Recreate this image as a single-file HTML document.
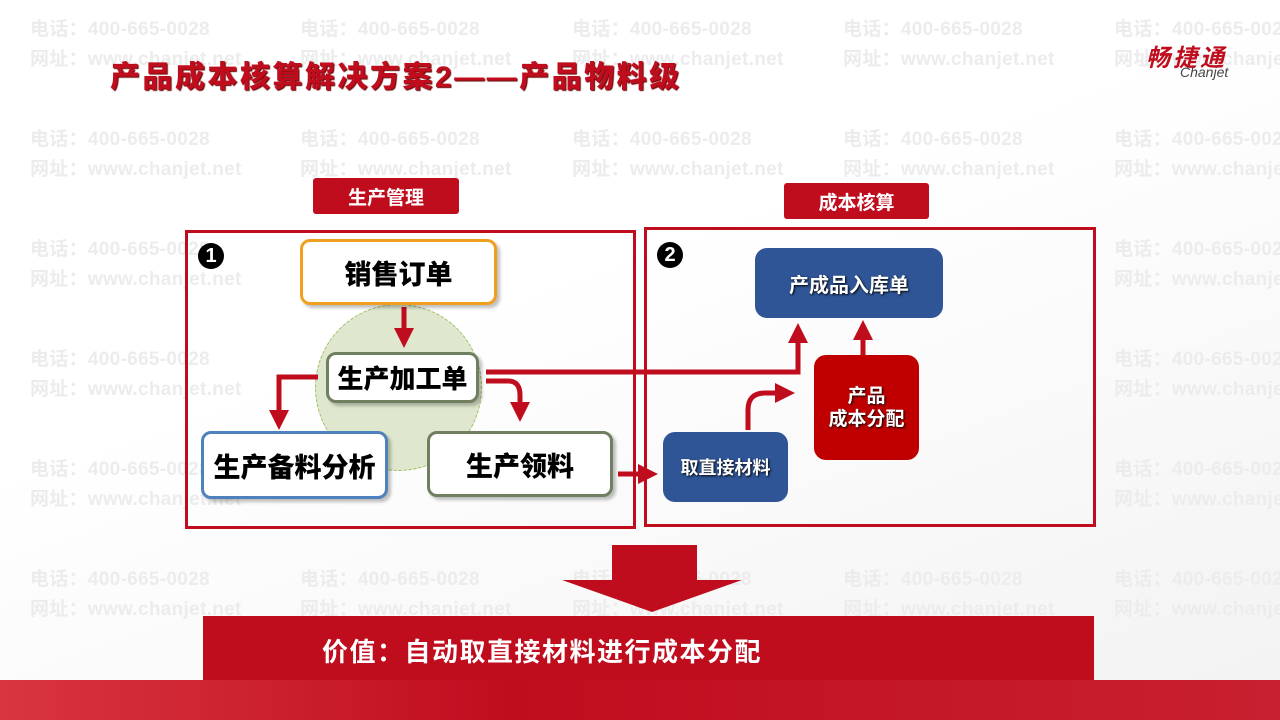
<!DOCTYPE html>
<html><head><meta charset="utf-8"><style>
body{margin:0;width:1280px;height:720px;overflow:hidden;background:#f7f7f7;font-family:"Liberation Sans","Noto Sans CJK SC",sans-serif;position:relative}
.a{position:absolute}
.wm{position:absolute;color:#ececec;font-size:19px;font-weight:bold;line-height:30px;white-space:nowrap;letter-spacing:0.3px}
.box{position:absolute;box-sizing:border-box;background:#fff;border-radius:10px;font-weight:900;font-size:26px;display:flex;align-items:center;justify-content:center;color:#000;box-shadow:3px 3px 3px rgba(0,0,0,.25)}
.bl{position:absolute;background:#2f5597;border-radius:12px;color:#fff;font-weight:bold;display:flex;align-items:center;justify-content:center;text-align:center;text-shadow:1px 1px 2px #000}
.lab{position:absolute;background:#c00d1e;color:#fff;font-weight:bold;font-size:19px;display:flex;align-items:center;justify-content:center;border-radius:3px}
.num{position:absolute;width:26px;height:26px;border-radius:50%;background:#000;color:#fff;font-weight:bold;font-size:20px;display:flex;align-items:center;justify-content:center}
</style></head><body>
<div class="a" style="left:0;top:0;width:1280px;height:720px;background:linear-gradient(160deg,#fff 40%,#f2f2f2 100%)"></div>
<div class="wm" style="left:30px;top:15px">电话：400-665-0028<br>网址：www.chanjet.net</div>
<div class="wm" style="left:300px;top:15px">电话：400-665-0028<br>网址：www.chanjet.net</div>
<div class="wm" style="left:572px;top:15px">电话：400-665-0028<br>网址：www.chanjet.net</div>
<div class="wm" style="left:843px;top:15px">电话：400-665-0028<br>网址：www.chanjet.net</div>
<div class="wm" style="left:1114px;top:15px">电话：400-665-0028<br>网址：www.chanjet.net</div>
<div class="wm" style="left:30px;top:125px">电话：400-665-0028<br>网址：www.chanjet.net</div>
<div class="wm" style="left:300px;top:125px">电话：400-665-0028<br>网址：www.chanjet.net</div>
<div class="wm" style="left:572px;top:125px">电话：400-665-0028<br>网址：www.chanjet.net</div>
<div class="wm" style="left:843px;top:125px">电话：400-665-0028<br>网址：www.chanjet.net</div>
<div class="wm" style="left:1114px;top:125px">电话：400-665-0028<br>网址：www.chanjet.net</div>
<div class="wm" style="left:30px;top:235px">电话：400-665-0028<br>网址：www.chanjet.net</div>
<div class="wm" style="left:1114px;top:235px">电话：400-665-0028<br>网址：www.chanjet.net</div>
<div class="wm" style="left:30px;top:345px">电话：400-665-0028<br>网址：www.chanjet.net</div>
<div class="wm" style="left:1114px;top:345px">电话：400-665-0028<br>网址：www.chanjet.net</div>
<div class="wm" style="left:30px;top:455px">电话：400-665-0028<br>网址：www.chanjet.net</div>
<div class="wm" style="left:1114px;top:455px">电话：400-665-0028<br>网址：www.chanjet.net</div>
<div class="wm" style="left:30px;top:565px">电话：400-665-0028<br>网址：www.chanjet.net</div>
<div class="wm" style="left:300px;top:565px">电话：400-665-0028<br>网址：www.chanjet.net</div>
<div class="wm" style="left:572px;top:565px">电话：400-665-0028<br>网址：www.chanjet.net</div>
<div class="wm" style="left:843px;top:565px">电话：400-665-0028<br>网址：www.chanjet.net</div>
<div class="wm" style="left:1114px;top:565px">电话：400-665-0028<br>网址：www.chanjet.net</div>

<div class="a" style="left:110px;top:52px;font-size:30px;font-weight:900;color:#c00d1e;text-shadow:1px 1px 1px #600;letter-spacing:2.5px;white-space:nowrap">产品成本核算解决方案2——产品物料级</div>
<div class="a" style="left:1146px;top:38px;font-size:24px;font-weight:bold;font-style:italic;color:#c00d1e;letter-spacing:3px">畅捷通</div>
<div class="a" style="left:1180px;top:64px;font-size:14px;font-style:italic;color:#444">Chanjet</div>

<div class="lab" style="left:313px;top:178px;width:146px;height:36px">生产管理</div>
<div class="lab" style="left:784px;top:183px;width:145px;height:36px">成本核算</div>

<div class="a" style="left:185px;top:230px;width:445px;height:293px;border:3px solid #c00d1e"></div>
<div class="a" style="left:644px;top:227px;width:446px;height:294px;border:3px solid #c00d1e"></div>
<div class="num" style="left:198px;top:243px">1</div>
<div class="num" style="left:657px;top:242px">2</div>

<div class="a" style="left:315px;top:304px;width:165px;height:165px;border-radius:50%;background:#dfe8cf;border:1px dashed #9bbb59"></div>

<svg class="a" style="left:0;top:0" width="1280" height="720">
<defs><marker id="m" markerWidth="4" markerHeight="4" refX="2" refY="2" orient="auto" markerUnits="strokeWidth"><path d="M0,0L4,2L0,4z" fill="#c00d1e"/></marker></defs>
<g stroke="#c00d1e" stroke-width="5" fill="none">
<path d="M404,307V338" marker-end="url(#m)"/>
<path d="M318,377H279V420" marker-end="url(#m)"/>
<path d="M486,381H508Q520,381 520,395V412" marker-end="url(#m)"/>
<path d="M486,372H798V333" marker-end="url(#m)"/>
<path d="M863,355V330" marker-end="url(#m)"/>
<path d="M748,430V410Q748,393 765,393H785" marker-end="url(#m)"/>
<path d="M618,474H648" marker-end="url(#m)"/>
</g>
<path d="M648,279H783" stroke="#fff" stroke-width="1.5"/>
<path d="M612,545H697V580H742L652,612L562,580H612Z" fill="#c00d1e"/>
</svg>

<div class="box" style="left:300px;top:239px;width:197px;height:66px;border:3px solid #f0a020;font-size:27px">销售订单</div>
<div class="box" style="left:326px;top:352px;width:153px;height:51px;border:3px solid #6f7f5f">生产加工单</div>
<div class="box" style="left:201px;top:431px;width:187px;height:68px;border:3px solid #4f81bd;font-size:27px">生产备料分析</div>
<div class="box" style="left:427px;top:431px;width:186px;height:66px;border:3px solid #6f7f5f;font-size:27px">生产领料</div>

<div class="bl" style="left:755px;top:248px;width:188px;height:70px;font-size:20px">产成品入库单</div>
<div class="bl" style="left:663px;top:432px;width:125px;height:70px;font-size:18px">取直接材料</div>
<div class="bl" style="left:814px;top:355px;width:105px;height:105px;background:#c00000;font-size:19px;line-height:23px">产品<br>成本分配</div>

<div class="a" style="left:203px;top:616px;width:891px;height:64px;background:#c00d1e"></div>
<div class="a" style="left:322px;top:632px;font-size:26px;font-weight:bold;color:#fff;letter-spacing:1.5px;white-space:nowrap">价值：自动取直接材料进行成本分配</div>
<div class="a" style="left:0;top:680px;width:1280px;height:40px;background:linear-gradient(90deg,#d8353f,#c00d1e 40%,#c82030)"></div>
</body></html>
